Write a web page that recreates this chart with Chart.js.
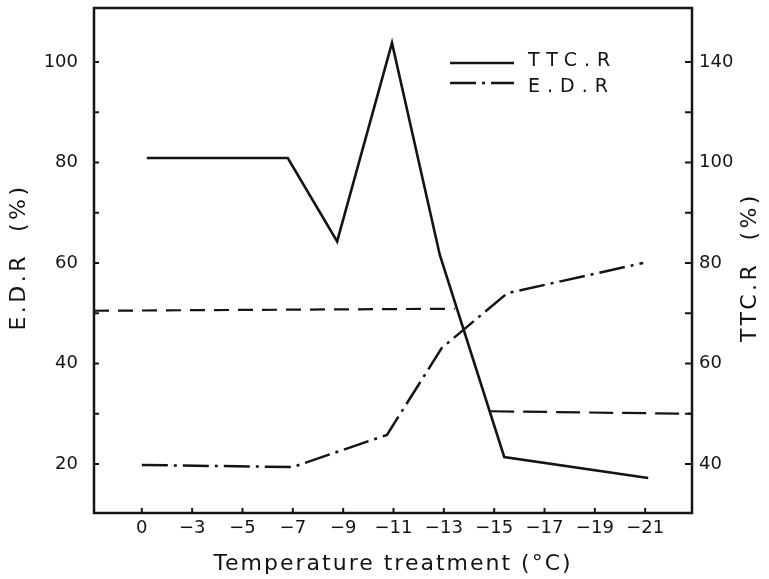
<!DOCTYPE html>
<html>
<head>
<meta charset="utf-8">
<script src="https://cdn.jsdelivr.net/npm/chart.js@4/dist/chart.umd.min.js"></script>
<style>
    body { margin: 0; background: #ffffff; }
    #wrap { width: 769px; height: 579px; }
</style>
</head>
<body>
<div id="wrap"><canvas id="chart"></canvas></div>
<script>
// Temperature treatments (°C) shown along the x axis
const tempLabels = ['0', '−3', '−5', '−7', '−9', '−11', '−13', '−15', '−17', '−19', '−21'];

// E.D.R (%) - left axis; x is the position along the treatment axis
const edrX = [0, 3, 4.87, 5.96, 7.26, 9.96];
const edrY = [19.8, 19.4, 25.8, 43.1, 54.0, 60.0];

// TTC.R (%) - right axis
const ttcX = [0.1, 2.9, 3.88, 4.97, 5.92, 7.2, 10.06];
const ttcY = [100.9, 100.9, 84.3, 123.8, 81.6, 41.4, 37.2];

// 50 % reference lines
const edrHalfX = [-0.95, 6.22];
const edrHalfY = [50.5, 50.9];
const ttcHalfX = [6.92, 10.93];
const ttcHalfY = [50.5, 50.0];

// Axis ticks
const edrTickValues = [20, 30, 40, 50, 60, 70, 80, 90, 100];
const edrTickLabels = ['20', '', '40', '', '60', '', '80', '', '100'];
const ttcTickValues = [40, 50, 60, 70, 80, 90, 100, 110, 120];
const ttcTickLabels = ['40', '', '60', '', '80', '', '100', '', '140'];

const ink = '#141414';
const tickFont = { family: 'DejaVu Sans', size: 18 };

function points(xs, ys) {
    return xs.map((x, i) => ({ x: x, y: ys[i] }));
}

function setTicks(values) {
    return scale => { scale.ticks = values.map(v => ({ value: v })); };
}

// fixed axis box sizes, no extra label padding around the plot
function fixSize(prop, size) {
    return scale => {
        scale[prop] = size;
        scale.paddingTop = 0;
        scale.paddingBottom = 0;
        scale.paddingLeft = 0;
        scale.paddingRight = 0;
    };
}

// Frame, inward tick marks, legend and axis titles
const decorations = {
    id: 'decorations',
    afterDraw(chart) {
        const { ctx, chartArea: a, scales } = chart;
        ctx.save();
        ctx.strokeStyle = ink;
        ctx.fillStyle = ink;
        ctx.lineWidth = 2.5;
        ctx.strokeRect(a.left, a.top, a.right - a.left, a.bottom - a.top);

        ctx.lineWidth = 2;
        ctx.beginPath();
        scales.x.ticks.forEach(t => {
            const px = scales.x.getPixelForValue(t.value);
            ctx.moveTo(px, a.bottom);
            ctx.lineTo(px, a.bottom - 5);
        });
        scales.y.ticks.forEach(t => {
            const py = scales.y.getPixelForValue(t.value);
            ctx.moveTo(a.left, py);
            ctx.lineTo(a.left + 5, py);
        });
        scales.y2.ticks.forEach(t => {
            const py = scales.y2.getPixelForValue(t.value);
            ctx.moveTo(a.right, py);
            ctx.lineTo(a.right - 7, py);
        });
        ctx.stroke();

        // legend inside the plot, top right
        const legendRows = [
            { ds: chart.data.datasets[0], lineY: 55, textY: 58 },
            { ds: chart.data.datasets[1], lineY: 75, textY: 84 }
        ];
        ctx.font = '19px "DejaVu Sans"';
        ctx.letterSpacing = '7px';
        ctx.textAlign = 'left';
        ctx.textBaseline = 'alphabetic';
        legendRows.forEach(row => {
            ctx.save();
            ctx.lineWidth = row.ds.borderWidth;
            ctx.setLineDash(row.ds.borderDash || []);
            ctx.beginPath();
            ctx.moveTo(a.left + 356, a.top + row.lineY);
            ctx.lineTo(a.left + 420, a.top + row.lineY);
            ctx.stroke();
            ctx.restore();
            ctx.fillText(row.ds.label, a.left + 434, a.top + row.textY);
        });

        // axis titles
        ctx.font = '22px "DejaVu Sans"';
        ctx.letterSpacing = '2px';
        ctx.textAlign = 'center';
        ctx.fillText('Temperature treatment (°C)', (a.left + a.right) / 2, a.bottom + 57);

        ctx.letterSpacing = '3.5px';
        ctx.textBaseline = 'middle';
        ctx.save();
        ctx.translate(19, 257);
        ctx.rotate(-Math.PI / 2);
        ctx.fillText('E.D.R  (%)', 0, 0);
        ctx.restore();
        ctx.save();
        ctx.translate(750, 267);
        ctx.rotate(-Math.PI / 2);
        ctx.fillText('TTC.R  (%)', 0, 0);
        ctx.restore();

        ctx.restore();
    }
};

new Chart(document.getElementById('chart'), {
    type: 'line',
    data: {
        datasets: [
            {
                label: 'TTC.R',
                data: points(ttcX, ttcY),
                yAxisID: 'y2',
                borderColor: ink,
                borderWidth: 2.6,
                pointRadius: 0
            },
            {
                label: 'E.D.R',
                data: points(edrX, edrY),
                yAxisID: 'y',
                borderColor: ink,
                borderWidth: 2.5,
                borderDash: [26, 6, 3, 6],
                pointRadius: 0
            },
            {
                label: 'E.D.R 50%',
                data: points(edrHalfX, edrHalfY),
                yAxisID: 'y',
                borderColor: ink,
                borderWidth: 2.2,
                borderDash: [15, 9],
                pointRadius: 0
            },
            {
                label: 'TTC.R 50%',
                data: points(ttcHalfX, ttcHalfY),
                yAxisID: 'y2',
                borderColor: ink,
                borderWidth: 2.2,
                borderDash: [24, 9],
                pointRadius: 0
            }
        ]
    },
    options: {
        responsive: true,
        maintainAspectRatio: false,
        animation: false,
        layout: { padding: { top: 8, left: 0, right: 0, bottom: 0 } },
        elements: { line: { tension: 0 } },
        plugins: {
            legend: { display: false },
            tooltip: { enabled: false }
        },
        scales: {
            x: {
                type: 'linear',
                min: -0.95,
                max: 10.93,
                afterBuildTicks: setTicks(tempLabels.map((_, i) => i)),
                afterFit: fixSize('height', 66),
                grid: { display: false, drawTicks: false },
                border: { display: false },
                ticks: {
                    color: ink,
                    font: tickFont,
                    padding: 5,
                    maxRotation: 0,
                    autoSkip: false,
                    callback: v => tempLabels[v]
                }
            },
            y: {
                position: 'left',
                min: 10.25,
                max: 110.75,
                afterBuildTicks: setTicks(edrTickValues),
                afterFit: fixSize('width', 94),
                grid: { display: false, drawTicks: false },
                border: { display: false },
                ticks: {
                    color: ink,
                    font: tickFont,
                    padding: 16,
                    autoSkip: false,
                    callback: v => edrTickLabels[edrTickValues.indexOf(v)]
                }
            },
            y2: {
                position: 'right',
                min: 30.25,
                max: 130.75,
                afterBuildTicks: setTicks(ttcTickValues),
                afterFit: fixSize('width', 77),
                grid: { display: false, drawTicks: false },
                border: { display: false },
                ticks: {
                    color: ink,
                    font: tickFont,
                    padding: 7,
                    autoSkip: false,
                    callback: v => ttcTickLabels[ttcTickValues.indexOf(v)]
                }
            }
        }
    },
    plugins: [decorations]
});
</script>
</body>
</html>
